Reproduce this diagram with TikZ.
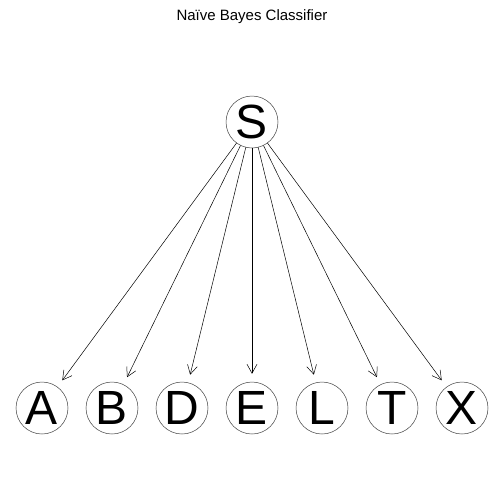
\documentclass[tikz,border=0pt]{standalone}
\usepackage{fontspec}
\setmainfont{Liberation Sans}
\usetikzlibrary{arrows.meta, positioning}
\tikzset{
  varnode/.style={circle, draw=black!75, line width=0.5pt, inner sep=0pt,
    minimum size=52pt, font=\fontsize{48}{48}\selectfont},
  edgearrow/.style={-{Straight Barb[length=9pt, width=10pt]}, line width=0.5pt,
    shorten >=8pt},
  titletext/.style={font=\fontsize{15}{17}\selectfont}
}
\begin{document}
\begin{tikzpicture}[x=1pt, y=-1pt, node distance=17.5pt]
  \useasboundingbox (0,0) rectangle (504,504);
  \node[titletext] (title) at (252,17) {Naïve Bayes Classifier};
  \node[varnode] (S) at (252,122) {S};
  \node[varnode] (E) at (252,408) {E};
  \node[varnode, left=of E] (D) {D};
  \node[varnode, left=of D] (B) {B};
  \node[varnode, left=of B] (A) {A};
  \node[varnode, right=of E] (L) {L};
  \node[varnode, right=of L] (T) {T};
  \node[varnode, right=of T] (X) {X};

  \foreach \v in {A, B, D, E, L, T, X}
    \draw[edgearrow] (S) -- (\v);
\end{tikzpicture}
\end{document}
